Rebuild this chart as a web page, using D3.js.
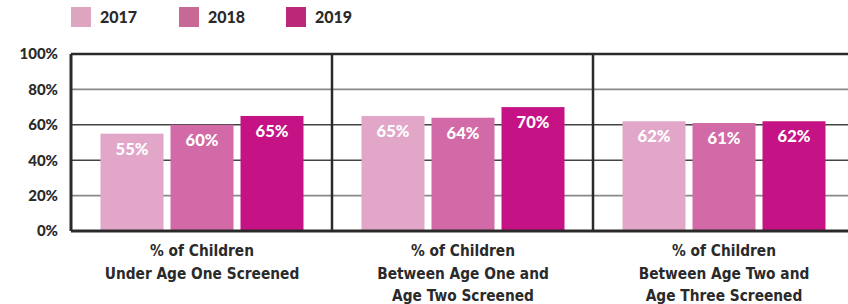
<!DOCTYPE html>
<html>
<head>
<meta charset="utf-8">
<script src="https://cdn.jsdelivr.net/npm/d3@7"></script>
<style>
  body { margin: 0; background: #fff; }
  svg { display: block; }
</style>
</head>
<body>
<div id="chart"></div>
<script>
(function() {
    "use strict";

    // chart values
    var years = ["2017", "2018", "2019"];
    var categories = [
        ["% of Children", "Under Age One Screened"],
        ["% of Children", "Between Age One and", "Age Two Screened"],
        ["% of Children", "Between Age Two and", "Age Three Screened"]
    ];
    var values2017 = [55, 65, 62];
    var values2018 = [60, 64, 61];
    var values2019 = [65, 70, 62];
    var yTicks = [0, 20, 40, 60, 80, 100];

    var barColors = ["#e2a7c8", "#d16aa6", "#c51285"];
    var legendColors = ["#dea5c0", "#c86995", "#bb2878"];
    var series = [values2017, values2018, values2019];

    var w = 848;
    var h = 304;
    var left = 71, right = 854, top = 54, bottom = 231;
    var boldFont = "Lato, 'Open Sans', sans-serif";

    var svg = d3.select("#chart").append("svg")
        .attr("width", w)
        .attr("height", h);

    var groupIdx = categories.map(function(d, i) { return i; });

    // Outer scale for the three groups, inner scale for the years.
    var xGroup = d3.scaleBand()
        .domain(groupIdx)
        .range([left, right])
        .padding(0);
    var xBar = d3.scaleBand()
        .domain(years)
        .range([29.5, 232.5])
        .paddingInner(0.1)
        .paddingOuter(0);
    var yScale = d3.scaleLinear()
        .domain([0, 100])
        .range([bottom, top]);

    // Gridlines
    svg.selectAll(".grid")
        .data(yTicks.slice(1, -1))
        .enter()
        .append("line")
            .attr("x1", left)
            .attr("x2", w)
            .attr("y1", function(d) { return yScale(d); })
            .attr("y2", function(d) { return yScale(d); })
            .attr("stroke", function(d) { return (d == 40 || d == 60) ? "#444" : "#888"; })
            .attr("stroke-width", 1.6);

    // Bars
    var groups = svg.selectAll(".group")
        .data(groupIdx)
        .enter()
        .append("g")
            .attr("transform", function(d) { return "translate(" + xGroup(d) + ",0)"; });

    function rows(g) {
        return years.map(function(y, s) { return { year: y, s: s, v: series[s][g] }; });
    }

    groups.selectAll("rect")
        .data(rows)
        .enter()
        .append("rect")
            .attr("x", function(d) { return xBar(d.year); })
            .attr("y", function(d) { return yScale(d.v); })
            .attr("width", xBar.bandwidth())
            .attr("height", function(d) { return yScale(0) - yScale(d.v); })
            .attr("fill", function(d) { return barColors[d.s]; });

    groups.selectAll(".bar-label")
        .data(rows)
        .enter()
        .append("text")
            .attr("x", function(d) { return xBar(d.year) + xBar.bandwidth() / 2; })
            .attr("y", function(d) { return yScale(d.v) + 21; })
            .attr("text-anchor", "middle")
            .attr("fill", "#fff")
            .attr("font-family", boldFont)
            .attr("font-weight", 900)
            .attr("font-size", 16.5)
            .text(function(d) { return d.v + "%"; });

    // Frame: top line, bottom axis, dividers
    svg.append("line")
        .attr("x1", left).attr("x2", w)
        .attr("y1", yScale(100)).attr("y2", yScale(100))
        .attr("stroke", "#2a2a2a").attr("stroke-width", 2.5);
    svg.append("line")
        .attr("x1", left).attr("x2", w)
        .attr("y1", yScale(0)).attr("y2", yScale(0))
        .attr("stroke", "#2a2a2a").attr("stroke-width", 3);

    svg.selectAll(".divider")
        .data(groupIdx)
        .enter()
        .append("line")
            .attr("x1", function(d) { return xGroup(d); })
            .attr("x2", function(d) { return xGroup(d); })
            .attr("y1", yScale(100))
            .attr("y2", yScale(0))
            .attr("stroke", "#2a2a2a")
            .attr("stroke-width", function(d) { return d == 0 ? 3 : 2.5; });

    // Y axis labels
    var yAxis = d3.axisLeft(yScale)
        .tickValues(yTicks)
        .tickSize(0)
        .tickPadding(13)
        .tickFormat(function(d) { return d + "%"; });
    var yg = svg.append("g")
        .attr("transform", "translate(" + left + ",0)")
        .call(yAxis);
    yg.select(".domain").remove();
    yg.selectAll("text")
        .attr("font-family", boldFont)
        .attr("font-weight", 900)
        .attr("font-size", 15)
        .attr("fill", "#2a2a2a");

    // Category labels
    var cat = svg.selectAll(".cat")
        .data(groupIdx)
        .enter()
        .append("text")
            .attr("text-anchor", "middle")
            .attr("font-family", "'Liberation Sans Narrow', 'DejaVu Sans Condensed', sans-serif")
            .attr("font-weight", "bold")
            .attr("font-size", 15.3)
            .attr("fill", "#2a2a2a");
    cat.selectAll("tspan")
        .data(function(g) { return categories[g].map(function(t) { return { g: g, t: t }; }); })
        .enter()
        .append("tspan")
            .attr("x", function(d) { return xGroup(d.g) + xBar(years[1]) + xBar.bandwidth() / 2; })
            .attr("y", function(d, i) { return 256 + i * 22.5; })
            .text(function(d) { return d.t; });

    // Legend
    var legendX = d3.scaleOrdinal()
        .domain(years)
        .range([71, 179, 286]);
    var lg = svg.selectAll(".legend")
        .data(years)
        .enter()
        .append("g")
            .attr("transform", function(d) { return "translate(" + legendX(d) + ",7)"; });
    lg.append("rect")
        .attr("width", 20)
        .attr("height", 20)
        .attr("fill", function(d, i) { return legendColors[i]; });
    lg.append("text")
        .attr("x", 29)
        .attr("y", 16)
        .attr("font-family", boldFont)
        .attr("font-weight", 900)
        .attr("font-size", 16)
        .attr("fill", "#2a2a2a")
        .text(function(d) { return d; });
})();
</script>
</body>
</html>
